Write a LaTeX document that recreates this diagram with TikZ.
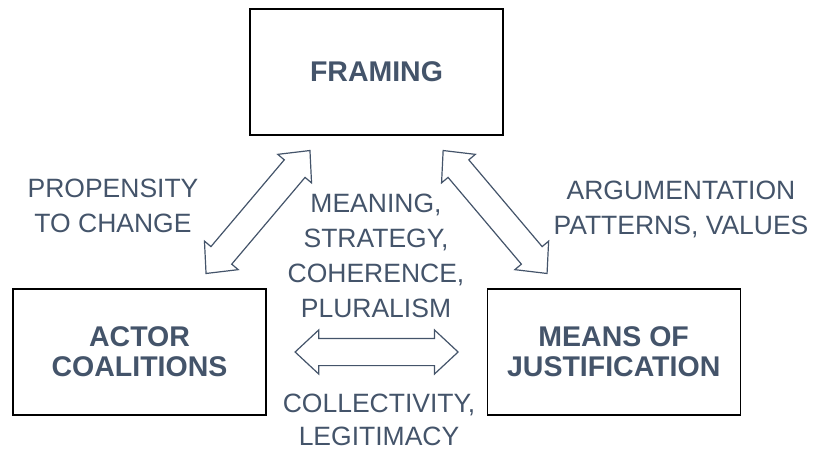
\documentclass[tikz,border=0pt]{standalone}
\usepackage{fontspec}
\setmainfont{Liberation Sans}
\usepackage{tikz}
\usetikzlibrary{shapes,arrows,positioning,calc}
\definecolor{slate}{HTML}{44546A}

\tikzset{
  box/.style={draw=black, line width=1.2pt, minimum width=253pt, minimum height=126pt,
    align=center, text=slate, font=\fontsize{28.5}{30}\selectfont\bfseries},
  linktext/.style={align=center, text=slate, font=\fontsize{26.5}{35}\selectfont},
  relarrow/.style={double arrow, draw=slate, fill=white, line width=1.2pt,
    inner xsep=0pt, inner ysep=13pt, double arrow head extend=8.5pt, double arrow tip angle=86}
}

\begin{document}
\begin{tikzpicture}[x=1pt, y=-1pt]
\useasboundingbox (0,0) rectangle (815,450);

% the three boxes
\node[box] (framing) at (376.5,72) {FRAMING};
\node[box] (actors) at (139.5,352) {ACTOR\\COALITIONS};
\node[box, right=220pt of actors] (means) {MEANS OF\\JUSTIFICATION};

% block arrows between them
\node[relarrow, minimum height=161pt, rotate=49.8] (toactors)
  at ($(framing.south west)!0.5!(actors.north east)$) {};
\node[relarrow, minimum height=161pt, rotate=-49.8] (tomeans)
  at ($(framing.south east)!0.5!(means.north west)$) {};
\node[relarrow, minimum height=163pt] (between)
  at ($(actors.east)!0.5!(means.west)$) {};

% texts on the arrows
\node[linktext] (propensity) at (113,206) {PROPENSITY\\TO CHANGE};
\node[linktext] (argument) at (681,209) {ARGUMENTATION\\PATTERNS, VALUES};
\node[linktext] (meaning) at (376,256) {MEANING,\\STRATEGY,\\COHERENCE,\\PLURALISM};
\node[linktext, font=\fontsize{26.5}{33}\selectfont] (collect) at (379,420)
  {COLLECTIVITY,\\LEGITIMACY};

\end{tikzpicture}
\end{document}
